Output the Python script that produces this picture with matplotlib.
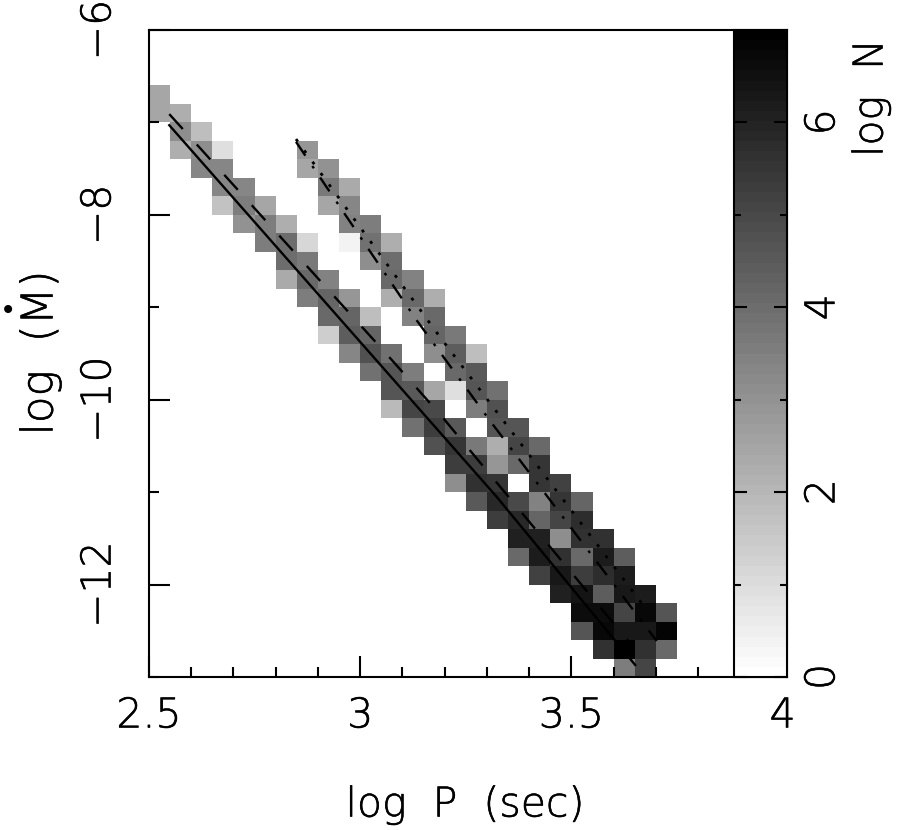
import numpy as np
import matplotlib
matplotlib.use("Agg")
import matplotlib.pyplot as plt
import matplotlib.patheffects as pe

plt.rcParams['font.family'] = ['DejaVu Sans']
plt.rcParams['font.weight'] = 'light'
plt.rcParams['lines.scale_dashes'] = False

nan = np.nan

# log N per column of the map, first_row counts down from log Mdot = -6.6
first_row = [0, 1, 2, 3, 4, 6, 7, 3, 4, 5, 7, 8, 10, 11, 13, 14, 16, 18, 19, 21, 22, 24, 25, 27, 28]
log_n = [
    [2.47, 2.47],
    [2.2, 3.16, 2.2],
    [1.78, 3.16, 3.29],
    [.96, 3.29, 3.29, 1.65],
    [.08, 3.29, 3.57, 3.02],
    [2.47, 3.57, 3.57],
    [2.2, 3.98, 3.98, 2.33],
    [2.88, 2.47, nan, nan, nan, 1.1, 3.7, 4.12, 3.57],
    [3.02, 3.7, 2.47, nan, nan, nan, 3.43, 4.25, 4.12, 1.37],
    [2.33, 3.29, 3.43, .33, nan, nan, 2.88, 4.25, 4.39, 3.29],
    [3.57, 3.84, 3.16, nan, nan, 1.78, 4.25, 4.75, 3.92],
    [2.2, 3.98, 4.12, 2.2, nan, nan, 3.92, 4.67, 4.67, 1.92],
    [3.43, 4.12, 3.49, nan, nan, 3.57, 4.53, 5.08, 3.84],
    [2.2, 4.12, 4.25, 3.16, nan, 2.47, 4.94, 5.35, 4.8],
    [3.7, 4.39, 4.12, .96, nan, 4.59, 5.57, 5.35, 3.16],
    [1.78, 4.53, 4.67, 3.57, nan, 3.7, 5.35, 5.63, 4.53],
    [3.84, 4.75, 4.67, 2.2, 2.88, 5.49, 5.9, 5.35],
    [4.67, 5.08, 4.12, nan, 4.94, 5.9, 6.04, 4.12],
    [4.12, 5.49, 5.49, 3.43, 4.25, 6.04, 6.23, 5.2],
    [5.2, 5.49, 5.08, 3.16, 5.63, 6.31, 6.12],
    [4.25, 5.76, 5.63, 4.12, 5.35, 6.45, 6.59, 4.67],
    [5.63, 6.18, 5.76, 4.39, 6.59, 6.78, 5.63],
    [4.39, 6.23, 6.31, 5.08, 6.31, 6.95, 3.57],
    [6.18, 6.73, 6.31, 5.63, 5.08],
    [4.67, 6.86, 4.12],
]

# model tracks
solid_x = [2.548, 3.055, 3.323, 3.651]
solid_y = [-7.03, -9.66, -11.05, -12.87]
dashed_x = [2.548, 3.067, 3.193, 3.649]
dashed_y = [-6.91, -9.53, -10.18, -12.69]
dashdot_x = [2.848, 3.132, 3.311, 3.702]
dashdot_y = [-7.21, -9.13, -10.25, -12.61]
dotted_x = [2.848, 3.187, 3.676]
dotted_y = [-7.18, -9.31, -12.26]

x_ticks = [2.5, 3, 3.5, 4]
x_labels = ['2.5', '3', '3.5', '4']
y_ticks = [-12, -10, -8, -6]
y_labels = ['\u221212', '\u221210', '\u22128', '\u22126']
cb_ticks = [0, 2, 4, 6]

W, H = 911, 830
left, right, top, bottom = 149, 786.7, 30, 677
lw = 1.5
line_w = 1.7
fs = 29.5
bold = [pe.withStroke(linewidth=0.4, foreground='k')]

grid = np.full((32, 25), nan)
for c, col in enumerate(log_n):
    grid[first_row[c]:first_row[c] + len(col), c] = col
x_edges = 2.5 + 0.05 * np.arange(26)
y_edges = -6.6 - 0.2 * np.arange(33)

cmap = plt.get_cmap('gray_r', 64).copy()
cmap.set_bad('white')

fig = plt.figure(figsize=(W / 100, H / 100), dpi=100)
ax = fig.add_axes([left / W, 1 - bottom / H, (right - left) / W, (bottom - top) / H])
mesh = ax.pcolormesh(x_edges, y_edges, np.ma.masked_invalid(grid), cmap=cmap, vmin=0, vmax=7,
                     edgecolors='none', antialiased=False)

ax.plot(solid_x, solid_y, color='k', lw=line_w, ls='-')
ax.plot(dashed_x, dashed_y, color='k', lw=line_w, ls=(0, (14.5, 15)))
ax.plot(dashdot_x, dashdot_y, color='k', lw=line_w, ls=(0, (12, 9, 2, 8)))
ax.plot(dotted_x, dotted_y, color='k', lw=2, ls=(0, (2.2, 7.9)))

ax.set_xlim(2.5, 2.5 + (right - left) / 422.4)
ax.set_ylim(-13, -6)
ax.set_xticks(x_ticks)
ax.set_xticklabels(x_labels, fontsize=fs, path_effects=bold)
ax.set_xticks(np.arange(2.6, 4, 0.1), minor=True)
ax.set_yticks(y_ticks)
ax.set_yticklabels(y_labels, fontsize=fs, rotation=90, va='center', path_effects=bold)
ax.set_yticks([-13, -11, -9, -7], minor=True)
ax.tick_params(which='major', direction='in', length=15, width=lw, pad=22)
ax.tick_params(axis='x', which='major', pad=14)
ax.tick_params(which='minor', direction='in', length=7.5, width=lw)
for s in ax.spines.values():
    s.set_linewidth(lw)

cax = fig.add_axes([734.3 / W, 1 - bottom / H, (right - 734.3) / W, (bottom - top) / H])
cb = fig.colorbar(mesh, cax=cax)
cb.outline.set_linewidth(lw)
cb.set_ticks(cb_ticks)
cb.set_ticklabels([str(t) for t in cb_ticks], fontsize=fs, rotation=90, va='center', path_effects=bold)
cax.set_yticks([1, 3, 5], minor=True)
cax.tick_params(which='major', direction='in', left=True, right=True, length=9.5, width=lw, pad=12)
cax.tick_params(which='minor', direction='in', left=True, right=True, length=5, width=lw)

fig.text(465 / W, 1 - 805 / H, 'log  P  (sec)', fontsize=fs, ha='center', va='center', path_effects=bold)
fig.text(40 / W, 1 - 353 / H, 'log  (M)', fontsize=31.5, rotation=90, ha='center', va='center', path_effects=bold)
fig.text(7.5 / W, 1 - 311 / H, '\u2022', fontsize=20, ha='center', va='center', weight='normal')
fig.text(871 / W, 1 - 98 / H, 'log  N', fontsize=fs, rotation=90, ha='center', va='center', path_effects=bold)

fig.savefig('out.png', dpi=100)
